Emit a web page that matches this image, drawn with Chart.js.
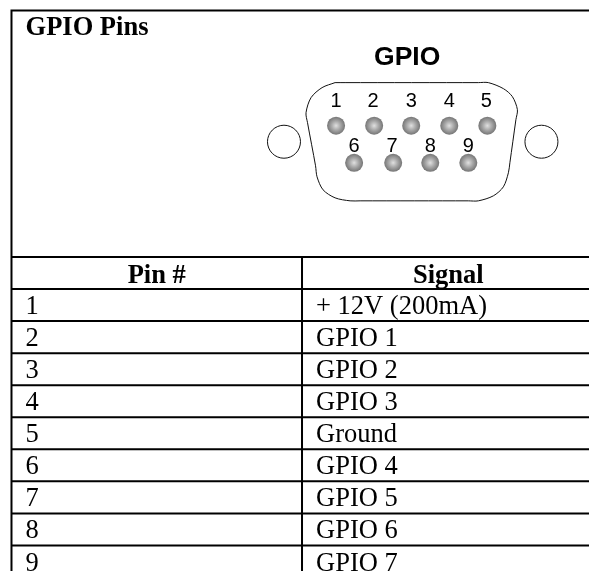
<!DOCTYPE html>
<html lang="en">
<head>
    <meta charset="UTF-8">
    <title>GPIO Pins</title>
    <script src="https://cdn.jsdelivr.net/npm/chart.js"></script>
    <style>
        body { margin: 0; background: #fff; }
        canvas { display: block; }
    </style>
</head>
<body>
    <canvas id="gpioChart" width="589" height="571"></canvas>
    <script>
        // Table content
        const tableTitle = 'GPIO Pins';
        const connectorTitle = 'GPIO';
        const columnHeaders = ['Pin #', 'Signal'];
        const pinNumbers = ['1', '2', '3', '4', '5', '6', '7', '8', '9'];
        const pinSignals = ['+ 12V (200mA)', 'GPIO 1', 'GPIO 2', 'GPIO 3', 'Ground', 'GPIO 4', 'GPIO 5', 'GPIO 6', 'GPIO 7'];

        // Connector drawing (in page units)
        const pinX = [336, 374, 411, 449, 487, 354, 393, 430, 468];
        const pinY = [126, 126, 126, 126, 126, 163, 163, 163, 163];
        const labelX = [336, 373, 411, 449, 486, 354, 392, 430, 468];
        const labelY = [107, 107, 107, 107, 107, 152, 152, 152, 152];
        const shellX = [335, 345, 478, 488, 503, 512, 517, 515.5, 509.5, 508, 503, 493, 478, 468, 360, 350, 335, 323, 317, 315.5, 307.5, 306, 311, 322, 335];
        const shellY = [83, 83, 83, 83, 89, 97, 110, 120, 163, 173, 187, 196, 201, 201, 201, 201, 198, 190, 177, 166, 123, 113, 98, 88, 83];
        const screwX = [284, 541];
        const screwY = [142, 142];

        // Table rules
        const ruleLeft = 12, ruleRight = 589, ruleMid = 302, ruleTop = 11, ruleBottom = 571;
        const headerEdge = 257, rowStep = 32;

        // Chart.js insets the plot by the biggest point overflow (the screws),
        // so the axes start there too and one unit stays one pixel
        const plotInset = 18;

        const rowEdges = pinNumbers.map((_, i) => headerEdge + rowStep * (i + 1));
        const rulePoints = [
            { x: ruleLeft - 1, y: ruleTop }, { x: ruleRight, y: ruleTop }, { x: null, y: null },
            { x: ruleLeft, y: ruleTop }, { x: ruleLeft, y: ruleBottom }, { x: null, y: null },
            { x: ruleMid, y: headerEdge }, { x: ruleMid, y: ruleBottom }, { x: null, y: null },
            { x: ruleLeft, y: headerEdge }, { x: ruleRight, y: headerEdge }, { x: null, y: null }
        ];
        rowEdges.forEach(y => {
            rulePoints.push({ x: ruleLeft, y: y }, { x: ruleRight, y: y }, { x: null, y: null });
        });

        function toPoints(xs, ys) {
            return xs.map((x, i) => ({ x: x, y: ys[i] }));
        }

        // Shaded pin: light centre fading to dark grey
        function pinShade(ctx) {
            const chart = ctx.chart;
            if (!ctx.raw) return '#888888';
            const px = chart.scales.x.getPixelForValue(ctx.raw.x);
            const py = chart.scales.y.getPixelForValue(ctx.raw.y);
            if (!isFinite(px) || !isFinite(py)) return '#888888';
            const g = chart.ctx.createRadialGradient(px, py, 0, px, py, 9);
            g.addColorStop(0, '#e0e0e0');
            g.addColorStop(0.5, '#a8a8a8');
            g.addColorStop(1, '#757575');
            return g;
        }

        // Text is drawn in data units so it goes through the scales
        const tableText = {
            id: 'tableText',
            afterDatasetsDraw(chart) {
                const c = chart.ctx, sx = chart.scales.x, sy = chart.scales.y;
                const put = (text, x, y, font, align) => {
                    c.font = font;
                    c.textAlign = align;
                    c.textBaseline = 'alphabetic';
                    c.fillStyle = '#000';
                    c.fillText(text, sx.getPixelForValue(x), sy.getPixelForValue(y));
                };
                const serif = '"Liberation Serif", serif';
                const sans = '"Liberation Sans", sans-serif';
                c.save();
                put(tableTitle, 26, 35, 'bold 26.5px ' + serif, 'left');
                put(connectorTitle, 407, 65, 'bold 26.5px ' + sans, 'center');
                pinNumbers.forEach((n, i) => {
                    put(n, labelX[i], labelY[i], '20px ' + sans, 'center');
                });
                put(columnHeaders[0], 157, 283, 'bold 26.5px ' + serif, 'center');
                put(columnHeaders[1], 448, 283, 'bold 26.5px ' + serif, 'center');
                pinNumbers.forEach((n, i) => {
                    const base = 314 + rowStep * i;
                    put(n, 26, base, '26.5px ' + serif, 'left');
                    put(pinSignals[i], 316, base, '26.5px ' + serif, 'left');
                });
                c.restore();
            }
        };

        new Chart(document.getElementById('gpioChart').getContext('2d'), {
            type: 'scatter',
            data: {
                datasets: [
                    {
                        label: 'Table rules',
                        data: rulePoints,
                        showLine: true,
                        spanGaps: false,
                        clip: false,
                        borderColor: '#000',
                        borderWidth: 2,
                        pointRadius: 0
                    },
                    {
                        label: 'Shell',
                        data: toPoints(shellX, shellY),
                        showLine: true,
                        clip: false,
                        tension: 0.3,
                        borderColor: '#111',
                        borderWidth: 1,
                        pointRadius: 0
                    },
                    {
                        label: 'Screws',
                        data: toPoints(screwX, screwY),
                        showLine: false,
                        clip: false,
                        pointRadius: 16.5,
                        pointBackgroundColor: '#fff',
                        pointBorderColor: '#111',
                        pointBorderWidth: 1
                    },
                    {
                        label: 'Pins',
                        data: toPoints(pinX, pinY),
                        showLine: false,
                        clip: false,
                        pointRadius: 9,
                        pointBorderWidth: 0,
                        pointBackgroundColor: pinShade
                    }
                ]
            },
            options: {
                responsive: false,
                animation: false,
                layout: { padding: 0 },
                plugins: { legend: { display: false }, tooltip: { enabled: false } },
                scales: {
                    x: { type: 'linear', display: false, min: plotInset, max: 589 - plotInset },
                    y: { type: 'linear', display: false, min: plotInset, max: 571 - plotInset, reverse: true }
                }
            },
            plugins: [tableText]
        });
    </script>
</body>
</html>
